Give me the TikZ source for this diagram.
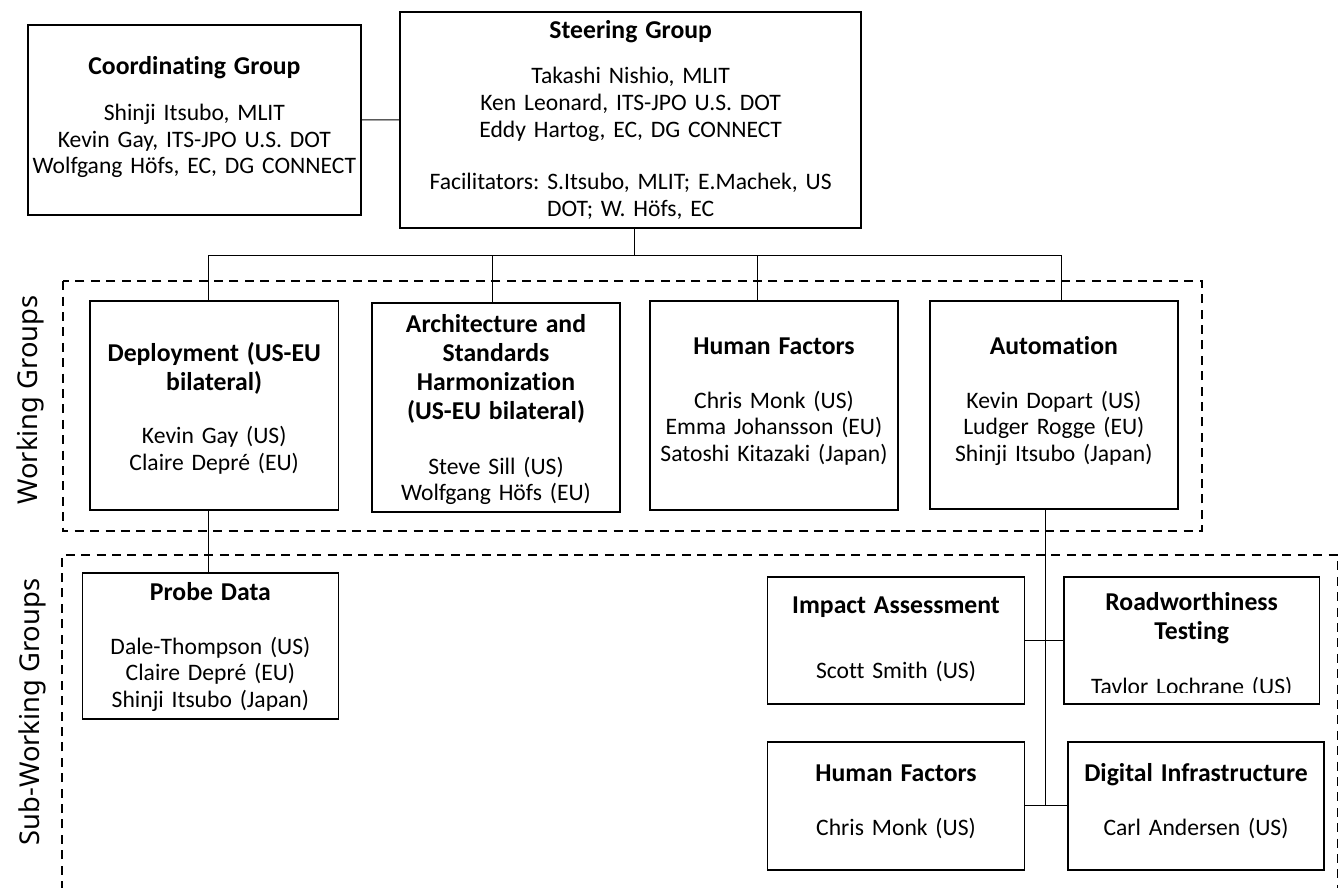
\documentclass[tikz,border=0pt]{standalone}
\usepackage{fontspec}
\setmainfont{Carlito}[Ligatures=NoCommon]
\newfontfamily\grlabelfamily{Noto Sans}
\frenchspacing
\newcommand{\grtitlefont}{\fontsize{25.7}{29}\selectfont\bfseries}
\newcommand{\grnamefont}{\fontsize{23.6}{26.6}\selectfont}
\newcommand{\boxtitle}[1]{{\grtitlefont #1\par}}
\newcommand{\boxnames}[1]{{\grnamefont #1\par}}
\tikzset{
  grbox/.style={draw, line width=1.7pt, rectangle, inner sep=0pt, outer sep=0pt},
  grtext/.style={text width=#1, inner sep=0pt, outer sep=0pt, anchor=base, font=\grnamefont, execute at begin node={\centering}},
  conn/.style={line width=1pt},
  dbox/.style={line width=1.6pt, dash pattern=on 9pt off 6.4pt},
  grlabel/.style={font=\grlabelfamily\fontsize{27.3}{30}\selectfont, rotate=90, anchor=base, inner sep=0pt}
}
\begin{document}
\begin{tikzpicture}[x=1pt,y=-1pt]
\useasboundingbox (0,0) rectangle (1341,888);

% dashed group frames
\draw[dbox] (62.7,281.2) rectangle (1202,531);
\draw[dbox] (62,890) -- (62,555) -- (1337.6,555) -- (1337.6,890);

% labels
\node[grlabel] (wgL) at (37.5,400) {Working Groups};
\node[grlabel] (swgL) at (39,712) {Sub-Working Groups};

% boxes
\node[grbox, minimum width=333.2pt, minimum height=190pt] (coord) at (194.4,120) {};
\node[grbox, minimum width=461.3pt, minimum height=216.3pt] (steer) at (630.65,119.85) {};
\node[grbox, minimum width=248.4pt, minimum height=209.3pt] (deploy) at (214.2,405.35) {};
\node[grbox, minimum width=248pt, minimum height=209.3pt] (arch) at (496,407.35) {};
\node[grbox, minimum width=248pt, minimum height=209.3pt] (hf) at (774,405.35) {};
\node[grbox, minimum width=247.7pt, minimum height=208.3pt] (auto) at (1053.85,404.85) {};
\node[grbox, minimum width=255.9pt, minimum height=145.7pt] (probe) at (210.45,646.15) {};
\node[grbox, minimum width=256.8pt, minimum height=127.3pt] (impact) at (896,640.35) {};
\node[grbox, minimum width=255.9pt, minimum height=127.3pt] (road) at (1191.65,640.35) {};
\node[grbox, minimum width=256.8pt, minimum height=128.3pt] (hftwo) at (896,805.85) {};
\node[grbox, minimum width=256pt, minimum height=128.3pt] (digital) at (1196,805.85) {};

% texts
\node[grtext=400pt] (coordT) at (194.4,74.7) {\boxtitle{Coordinating Group}\vspace{19.4pt}\boxnames{Shinji Itsubo, MLIT\\Kevin Gay, ITS-JPO U.S. DOT\\Wolfgang Höfs, EC, DG CONNECT}};
\node[grtext=520pt] (steerT) at (630.65,38.7) {\boxtitle{Steering Group}\vspace{18.7pt}\boxnames{Takashi Nishio, MLIT\\Ken Leonard, ITS-JPO U.S. DOT\\Eddy Hartog, EC, DG CONNECT}\vspace{25.8pt}\boxnames{Facilitators: S.Itsubo, MLIT; E.Machek, US\\DOT; W. Höfs, EC}};
\node[grtext=320pt] (deployT) at (214.2,361.3) {\boxtitle{Deployment (US-EU\\bilateral)}\vspace{26.7pt}\boxnames{Kevin Gay (US)\\Claire Depré (EU)}};
\node[grtext=320pt] (archT) at (496,332) {\boxtitle{Architecture and\\Standards\\Harmonization\\(US-EU bilateral)}\vspace{28.4pt}\boxnames{Steve Sill (US)\\Wolfgang Höfs (EU)}};
\node[grtext=320pt] (hfT) at (774,354) {\boxtitle{Human Factors}\vspace{27.4pt}\boxnames{Chris Monk (US)\\Emma Johansson (EU)\\Satoshi Kitazaki (Japan)}};
\node[grtext=320pt] (autoT) at (1053.85,354) {\boxtitle{Automation}\vspace{27.4pt}\boxnames{Kevin Dopart (US)\\Ludger Rogge (EU)\\Shinji Itsubo (Japan)}};
\node[grtext=320pt] (probeT) at (210.45,600) {\boxtitle{Probe Data}\vspace{27.4pt}\boxnames{Dale-Thompson (US)\\Claire Depré (EU)\\Shinji Itsubo (Japan)}};
\node[grtext=320pt] (impactT) at (896,613.7) {\boxtitle{Impact Assessment}\vspace{38.4pt}\boxnames{Scott Smith (US)}};
\begin{scope}
  \clip (1063.7,576.7) rectangle (1319.6,692.8);
  \node[grtext=320pt] (roadT) at (1191.65,610.3) {\boxtitle{Roadworthiness\\Testing}\vspace{28.1pt}\boxnames{Tavlor Lochrane (US)}};
\end{scope}
\node[grtext=320pt] (hftwoT) at (896,781.3) {\boxtitle{Human Factors}\vspace{27.4pt}\boxnames{Chris Monk (US)}};
\node[grtext=320pt] (digitalT) at (1196,781.3) {\boxtitle{Digital Infrastructure}\vspace{27.4pt}\boxnames{Carl Andersen (US)}};

% connectors
\coordinate (busS) at (634,255.7);
\coordinate (busL) at (208.3,255.7);
\coordinate (busA) at (492,255.7);
\coordinate (busH) at (757.7,255.7);
\coordinate (busR) at (1061.7,255.7);
\coordinate (subJ) at (1045.7,805.7);
\draw[conn] (coord.east) -- (steer.west);
\draw[conn] (busS |- steer.south) -- (busS);
\draw[conn] (busL) -- (busR);
\draw[conn] (busL) -- (busL |- deploy.north);
\draw[conn] (busA) -- (busA |- arch.north);
\draw[conn] (busH) -- (busH |- hf.north);
\draw[conn] (busR) -- (busR |- auto.north);
\draw[conn] (busL |- deploy.south) -- (busL |- probe.north);
\draw[conn] (subJ |- auto.south) -- (subJ);
\draw[conn] (impact.east) -- (road.west);
\draw[conn] (hftwo.east) -- (digital.west);
\end{tikzpicture}
\end{document}
